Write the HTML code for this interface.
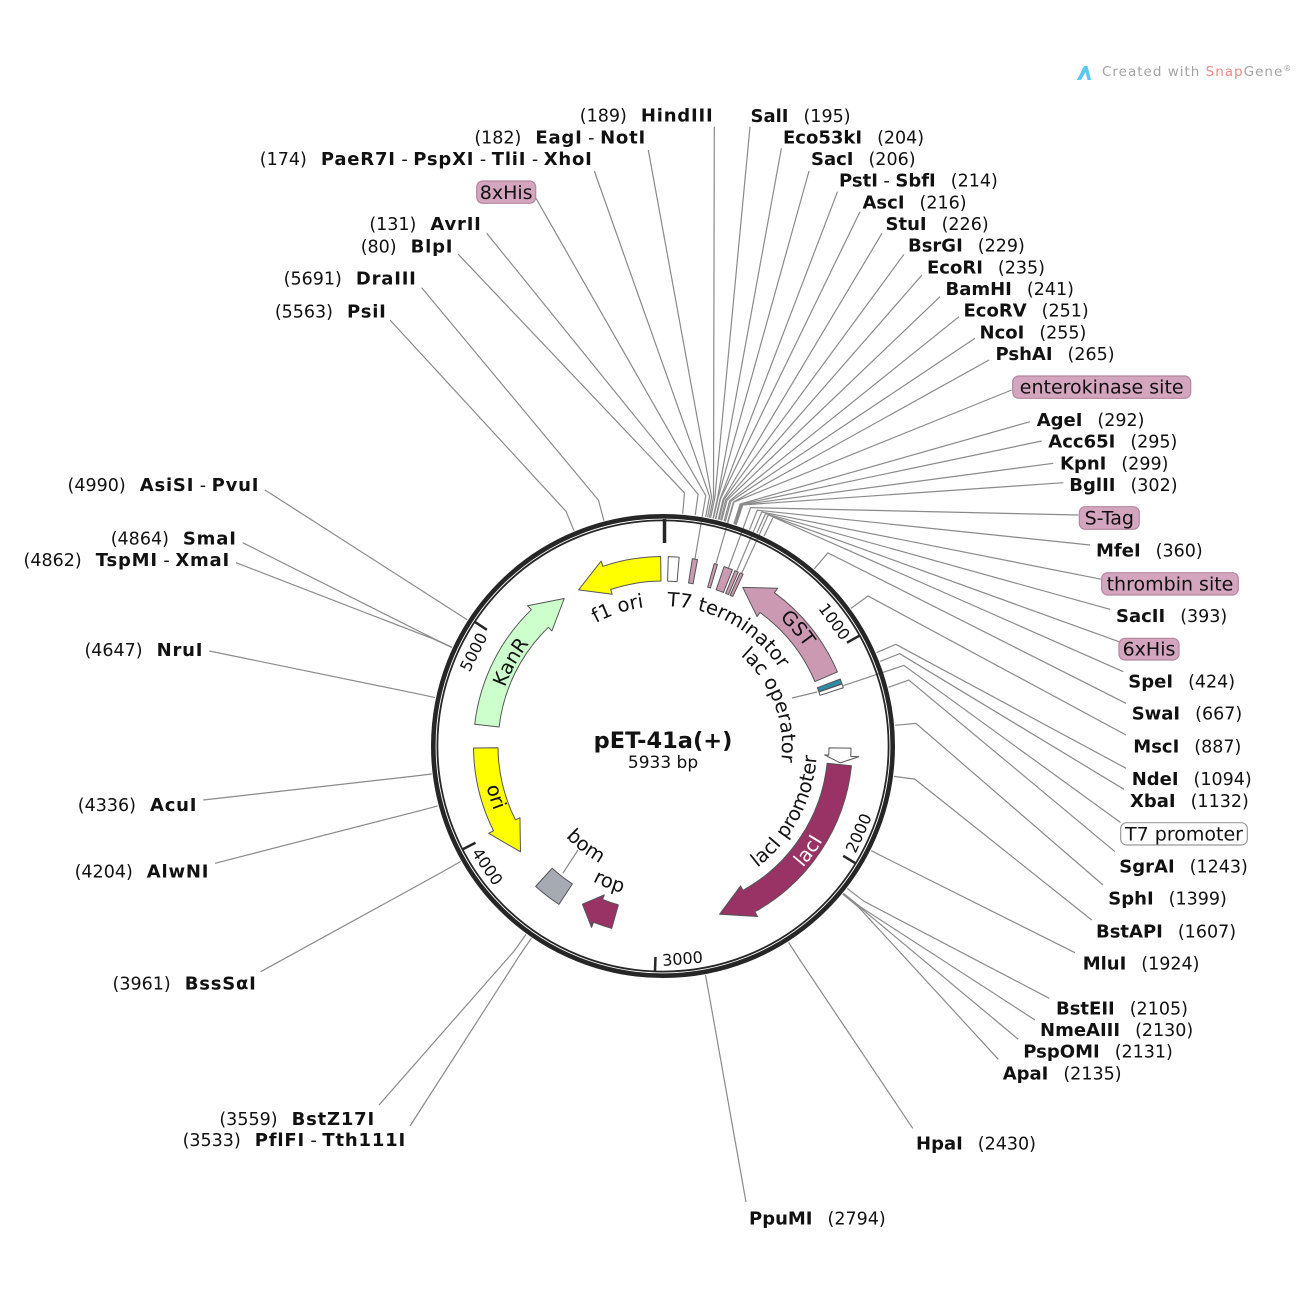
<!DOCTYPE html>
<html><head><meta charset="utf-8"><style>html,body{margin:0;padding:0;background:#fff;}svg{display:block;}</style></head>
<body>
<svg width="1300" height="1300" viewBox="0 0 1300 1300" xmlns="http://www.w3.org/2000/svg" font-family="'DejaVu Sans','Liberation Sans',sans-serif">
<rect width="1300" height="1300" fill="#fff"/>
<defs>
<path id="cw140" d="M0,140 A140,140 0 1,1 0,-140 A140,140 0 1,1 0,140"/>
<path id="cw119" d="M0,119 A119,119 0 1,1 0,-119 A119,119 0 1,1 0,119"/>
<path id="cw173" d="M0,173 A173,173 0 1,1 0,-173 A173,173 0 1,1 0,173"/>
<path id="cw168" d="M0,168.5 A168.5,168.5 0 1,1 0,-168.5 A168.5,168.5 0 1,1 0,168.5"/>
<path id="ccw154" d="M0,-154 A154,154 0 1,0 0,154 A154,154 0 1,0 0,-154"/>
<path id="ccw185" d="M0,-185.5 A185.5,185.5 0 1,0 0,185.5 A185.5,185.5 0 1,0 0,-185.5"/>
<path id="ccw181" d="M0,-181 A181,181 0 1,0 0,181 A181,181 0 1,0 0,-181"/>
<path id="ccw133" d="M0,-133 A133,133 0 1,0 0,133 A133,133 0 1,0 0,-133"/>
<path id="ccw152" d="M0,-152.5 A152.5,152.5 0 1,0 0,152.5 A152.5,152.5 0 1,0 0,-152.5"/>
</defs>

<!-- watermark -->
<path d="M1077,80 L1084,66 L1087.5,66 L1091,80 L1087.5,80 L1085.5,72 L1081,80 Z" fill="#5ac8ef"/>
<text x="1102" y="76" font-size="13.5" letter-spacing="1" fill="#a3a3a3">Created with <tspan fill="#ec8a85">Snap</tspan>Gene<tspan font-size="8" dy="-5">®</tspan></text>

<!-- leader lines -->
<g stroke="#8a8a8a" stroke-width="1.2" fill="none">
<polyline points="714.3,126.7 713.5,497.1 709.3,517.7"/>
<polyline points="648.3,150 711.6,496.7 707.6,517.3"/>
<polyline points="594.3,171 709.6,496.3 705.7,516.9"/>
<polyline points="486.7,233.3 698.1,494.4 695.2,515.2"/>
<polyline points="458.3,254.3 684.5,492.9 682.7,513.8"/>
<polyline points="421.7,287.7 598.5,500.3 603.9,520.6"/>
<polyline points="390,320 566,511.3 574,530.7"/>
<polyline points="536,198.3 705.8,495.6 695,558.7"/>
<polyline points="750,126.7 714.9,497.4 710.6,517.9"/>
<polyline points="781.4,148.3 717.5,497.9 713,518.4"/>
<polyline points="809,171 718,498 713.4,518.5"/>
<polyline points="837.5,191.7 720.2,498.5 715.4,519"/>
<polyline points="860,211.7 720.6,498.6 715.8,519.1"/>
<polyline points="882,233.3 723.1,499.2 718.2,519.6"/>
<polyline points="904,254.3 724,499.4 719,519.8"/>
<polyline points="922,275 725.7,499.9 720.6,520.2"/>
<polyline points="940,296.7 727,500.2 721.7,520.5"/>
<polyline points="959,316.7 729.6,500.9 724.1,521.2"/>
<polyline points="975,338.3 730.9,501.2 725.3,521.5"/>
<polyline points="989,360 733.4,502 727.6,522.1"/>
<polyline points="1011.7,390 733.9,502.1 716,563.5"/>
<polyline points="1030,421.7 740.2,504 733.8,524"/>
<polyline points="1041.7,441 741.1,504.3 734.6,524.3"/>
<polyline points="1053.3,463.3 741.9,504.6 735.4,524.5"/>
<polyline points="1063.3,482.7 742.8,504.9 736.2,524.8"/>
<polyline points="1078.3,515 750.7,507.6 728.6,567.7"/>
<polyline points="1090,545 757.3,510.2 749.5,529.7"/>
<polyline points="1101.7,579.3 761.7,512 736.8,570.9"/>
<polyline points="1110,609.3 765.5,513.6 757,532.8"/>
<polyline points="1119,641.7 768.3,514.9 741.8,573.1"/>
<polyline points="1123.3,671.7 773.2,517.1 764.1,536"/>
<polyline points="1126,703.3 827.9,552.9 814.3,568.8"/>
<polyline points="1126,735 868,596 851,608.4"/>
<polyline points="1126,768.3 895.8,644.3 876.5,652.7"/>
<polyline points="1124,789.3 899.7,653.7 880.1,661.4"/>
<polyline points="1120.5,822.5 903.9,665.4 843.2,685.7"/>
<polyline points="1115,851.7 908.8,680 888.5,687.3"/>
<polyline points="1103,885 916,723.4 895.1,725.3"/>
<polyline points="1091.7,920 914.8,779.1 894,776.4"/>
<polyline points="1075,952.7 889.9,860.1 871.2,850.7"/>
<polyline points="1049.3,998.3 864,901.3 847.3,888.5"/>
<polyline points="1035,1020 859.8,906.5 843.5,893.3"/>
<polyline points="1018.3,1039.3 859.5,906.9 843.3,893.6"/>
<polyline points="998.3,1059.3 859,907.6 842.8,894.2"/>
<polyline points="912.7,1128.3 799.9,960 788.5,942.3"/>
<polyline points="746,1202 709.3,995.8 705.5,975.1"/>
<polyline points="410,1126 519.5,955.6 531.4,938.2"/>
<polyline points="379,1105 513.7,951.5 526,934.5"/>
<polyline points="260.7,971.7 442.4,871.9 460.6,861.5"/>
<polyline points="215,863.3 417.5,811.3 437.8,805.9"/>
<polyline points="203.3,800 410.8,776.5 431.7,774"/>
<polyline points="209.3,651 414.6,693.2 435.1,697.6"/>
<polyline points="236,562.7 432.8,638.7 451.8,647.5"/>
<polyline points="242.7,542.7 433,638.3 452,647.2"/>
<polyline points="265,490 449.5,608.4 467.1,619.8"/>
<line x1="563" y1="873" x2="578" y2="850"/>
<line x1="817" y1="692" x2="792" y2="698"/>
</g>

<!-- ring -->
<g transform="translate(663,746)" stroke="#262626" fill="none">
<circle r="229.7" stroke-width="4.6"/>
<circle r="225.6" stroke-width="1.8"/>
<line x1="1.5" y1="-203" x2="1.5" y2="-227" stroke-width="3.5"/>
<line x1="0" y1="-211" x2="0" y2="-226" stroke-width="2.5" transform="rotate(60.68)"/>
<line x1="0" y1="-211" x2="0" y2="-226" stroke-width="2.5" transform="rotate(121.36)"/>
<line x1="0" y1="-211" x2="0" y2="-226" stroke-width="2.5" transform="rotate(182.04)"/>
<line x1="0" y1="-211" x2="0" y2="-226" stroke-width="2.5" transform="rotate(242.72)"/>
<line x1="0" y1="-211" x2="0" y2="-226" stroke-width="2.5" transform="rotate(303.4)"/>
</g>

<!-- tick labels -->
<g font-size="16" fill="#111" text-anchor="middle">
<text transform="translate(834.5,621.5) rotate(54.2)" dy="0.36em">1000</text>
<text transform="translate(858.5,833) rotate(-66)" dy="0.36em">2000</text>
<text transform="translate(682.5,958.5) rotate(-5)" dy="0.36em">3000</text>
<text transform="translate(487.5,866.5) rotate(55.7)" dy="0.36em">4000</text>
<text transform="translate(473.5,652) rotate(-63.3)" dy="0.36em">5000</text>
</g>

<!-- features -->
<g transform="translate(663,746)" stroke="#555" stroke-width="1" stroke-linejoin="round">
<path transform="rotate(-0.7) scale(-1,1)" fill="#ffff00" d="M0,-165 L0,-189.5 A189.5,189.5 0 0,1 57.93,-180.42 L59.61,-185.66 L82.5,-157.16 L48.91,-152.34 L50.44,-157.1 A165,165 0 0,0 0,-165 Z"/>
<path transform="rotate(1.6)" fill="#fff" d="M0,-165 L0,-189.5 A189.5,189.5 0 0,1 10.91,-189.19 L9.5,-164.73 A165,165 0 0,0 0,-165 Z"/>
<path transform="rotate(8.9)" fill="#cc99b3" d="M0,-165 L0,-189.5 A189.5,189.5 0 0,1 5.29,-189.43 L4.61,-164.94 A165,165 0 0,0 0,-165 Z"/>
<path transform="rotate(15.7)" fill="#cc99b3" d="M0,-165 L0,-189.5 A189.5,189.5 0 0,1 3.31,-189.47 L2.88,-164.97 A165,165 0 0,0 0,-165 Z"/>
<path transform="rotate(18.8)" fill="#cc99b3" d="M0,-165 L0,-189.5 A189.5,189.5 0 0,1 8.93,-189.29 L7.77,-164.82 A165,165 0 0,0 0,-165 Z"/>
<path transform="rotate(22.3)" fill="#cc99b3" d="M0,-165 L0,-189.5 A189.5,189.5 0 0,1 3.64,-189.47 L3.17,-164.97 A165,165 0 0,0 0,-165 Z"/>
<path transform="rotate(24)" fill="#cc99b3" d="M0,-165 L0,-189.5 A189.5,189.5 0 0,1 3.31,-189.47 L2.88,-164.97 A165,165 0 0,0 0,-165 Z"/>
<path transform="rotate(67) scale(-1,1)" fill="#cc99b3" d="M0,-165 L0,-189.5 A189.5,189.5 0 0,1 97.59,-162.44 L100.43,-167.15 L114.81,-135.38 L82.4,-137.15 L84.98,-141.44 A165,165 0 0,0 0,-165 Z"/>
<path transform="rotate(69.3)" fill="#2e8ca6" d="M0,-165 L0,-189.5 A189.5,189.5 0 0,1 4.96,-189.44 L4.32,-164.94 A165,165 0 0,0 0,-165 Z"/>
<path transform="rotate(70.9)" fill="#fff" d="M0,-165 L0,-189.5 A189.5,189.5 0 0,1 3.97,-189.46 L3.46,-164.96 A165,165 0 0,0 0,-165 Z"/>
<path transform="rotate(90.65)" fill="#fff" d="M0,-166 L0,-188 A188,188 0 0,1 8.2,-187.82 L8.55,-195.81 L14.9,-177.38 L7.07,-161.85 L7.24,-165.84 A166,166 0 0,0 0,-166 Z"/>
<path transform="rotate(96)" fill="#993366" d="M0,-165 L0,-189.5 A189.5,189.5 0 0,1 155.23,-108.7 L159.74,-111.85 L161.38,-73.89 L131.07,-91.78 L135.17,-94.64 A165,165 0 0,0 0,-165 Z"/>
<path transform="rotate(195.7)" fill="#993366" d="M0,-165 L0,-189.5 A189.5,189.5 0 0,1 19.15,-188.53 L19.71,-194 L34.78,-174.06 L16.17,-159.18 L16.67,-164.16 A165,165 0 0,0 0,-165 Z"/>
<path transform="rotate(213.3)" fill="#a6abb3" d="M0,-165 L0,-189.5 A189.5,189.5 0 0,1 29.32,-187.22 L25.53,-163.01 A165,165 0 0,0 0,-165 Z"/>
<path transform="rotate(269.4) scale(-1,1)" fill="#ffff00" d="M0,-165 L0,-189.5 A189.5,189.5 0 0,1 83.08,-170.32 L85.49,-175.27 L104.33,-143.6 L70.14,-143.81 L72.34,-148.3 A165,165 0 0,0 0,-165 Z"/>
<path transform="rotate(276.6)" fill="#ccffcc" d="M0,-165 L0,-189.5 A189.5,189.5 0 0,1 120.28,-146.43 L123.77,-150.68 L135.17,-115.04 L101.55,-123.63 L104.73,-127.5 A165,165 0 0,0 0,-165 Z"/>
</g>

<!-- inner feature labels -->
<g transform="translate(663,746)" font-size="19.5" fill="#111">
<text><textPath href="#cw140" startOffset="395.1" text-anchor="middle">f1 ori</textPath></text>
<text><textPath href="#cw140" startOffset="510.7" text-anchor="middle">T7 terminator</textPath></text>
<text><textPath href="#cw119" startOffset="517.2" text-anchor="middle">lac operator</textPath></text>
<text><textPath href="#cw173" startOffset="690.8" text-anchor="middle">GST</textPath></text>
<text><textPath href="#cw168" startOffset="349.4" text-anchor="middle">KanR</textPath></text>
<text><textPath href="#ccw154" startOffset="650.4" text-anchor="middle">lacI promoter</textPath></text>
<text fill="#fff"><textPath href="#ccw185" startOffset="757.9" text-anchor="middle">lacI</textPath></text>
<text><textPath href="#ccw181" startOffset="337.7" text-anchor="middle">ori</textPath></text>
<text><textPath href="#ccw133" startOffset="330.3" text-anchor="middle">bom</textPath></text>
<text><textPath href="#ccw152" startOffset="421.6" text-anchor="middle">rop</textPath></text>
</g>

<!-- center -->
<text x="663" y="748" font-size="22.5" font-weight="bold" text-anchor="middle" fill="#111">pET-41a(+)</text>
<text x="663" y="768" font-size="17" text-anchor="middle" fill="#111">5933 bp</text>

<!-- label boxes -->
<g stroke-width="1.2">
<rect x="476.7" y="181" width="59" height="22.3" rx="6" fill="#d4a5be" stroke="#b5869f"/>
<rect x="1012.7" y="376" width="178" height="22.3" rx="6" fill="#d4a5be" stroke="#b5869f"/>
<rect x="1079.3" y="506.7" width="60" height="22.6" rx="6" fill="#d4a5be" stroke="#b5869f"/>
<rect x="1101.7" y="572.7" width="136.6" height="22.3" rx="6" fill="#d4a5be" stroke="#b5869f"/>
<rect x="1119" y="638.3" width="60" height="21.7" rx="6" fill="#d4a5be" stroke="#b5869f"/>
<rect x="1120.7" y="822.7" width="126.6" height="22.3" rx="6" fill="#fff" stroke="#999"/>
</g>
<g font-size="19" fill="#111" text-anchor="middle">
<text x="506.2" y="199">8xHis</text>
<text x="1101.7" y="393.5">enterokinase site</text>
<text x="1109.3" y="524.5">S-Tag</text>
<text x="1170" y="590.3">thrombin site</text>
<text x="1149" y="655.5">6xHis</text>
<text x="1184" y="840.3">T7 promoter</text>
</g>

<!-- enzyme labels left -->
<g font-size="17.5" fill="#111" text-anchor="end">
<text x="713.5" y="121.7">(189)<tspan dx="14" font-weight="bold" font-size="18" letter-spacing="0.8">HindIII</tspan></text>
<text x="646" y="143.3">(182)<tspan dx="14" font-weight="bold" font-size="18" letter-spacing="0.8">EagI</tspan> - <tspan font-weight="bold" font-size="18" letter-spacing="0.8">NotI</tspan></text>
<text x="592.7" y="165">(174)<tspan dx="14" font-weight="bold" font-size="18" letter-spacing="0.8">PaeR7I</tspan> - <tspan font-weight="bold" font-size="18" letter-spacing="0.8">PspXI</tspan> - <tspan font-weight="bold" font-size="18" letter-spacing="0.8">TliI</tspan> - <tspan font-weight="bold" font-size="18" letter-spacing="0.8">XhoI</tspan></text>
<text x="481.7" y="230">(131)<tspan dx="14" font-weight="bold" font-size="18" letter-spacing="0.8">AvrII</tspan></text>
<text x="453.3" y="252.7">(80)<tspan dx="14" font-weight="bold" font-size="18" letter-spacing="0.8">BlpI</tspan></text>
<text x="416.7" y="284.3">(5691)<tspan dx="14" font-weight="bold" font-size="18" letter-spacing="0.8">DraIII</tspan></text>
<text x="386.7" y="317.7">(5563)<tspan dx="14" font-weight="bold" font-size="18" letter-spacing="0.8">PsiI</tspan></text>
<text x="259.3" y="491">(4990)<tspan dx="14" font-weight="bold" font-size="18" letter-spacing="0.8">AsiSI</tspan> - <tspan font-weight="bold" font-size="18" letter-spacing="0.8">PvuI</tspan></text>
<text x="236.7" y="544.3">(4864)<tspan dx="14" font-weight="bold" font-size="18" letter-spacing="0.8">SmaI</tspan></text>
<text x="230" y="566">(4862)<tspan dx="14" font-weight="bold" font-size="18" letter-spacing="0.8">TspMI</tspan> - <tspan font-weight="bold" font-size="18" letter-spacing="0.8">XmaI</tspan></text>
<text x="203.3" y="656">(4647)<tspan dx="14" font-weight="bold" font-size="18" letter-spacing="0.8">NruI</tspan></text>
<text x="197.3" y="811">(4336)<tspan dx="14" font-weight="bold" font-size="18" letter-spacing="0.8">AcuI</tspan></text>
<text x="209.3" y="877.7">(4204)<tspan dx="14" font-weight="bold" font-size="18" letter-spacing="0.8">AlwNI</tspan></text>
<text x="256.7" y="989.5">(3961)<tspan dx="14" font-weight="bold" font-size="18" letter-spacing="0.8">BssSαI</tspan></text>
<text x="375" y="1125">(3559)<tspan dx="14" font-weight="bold" font-size="18" letter-spacing="0.8">BstZ17I</tspan></text>
<text x="406" y="1146">(3533)<tspan dx="14" font-weight="bold" font-size="18" letter-spacing="0.8">PflFI</tspan> - <tspan font-weight="bold" font-size="18" letter-spacing="0.8">Tth111I</tspan></text>
</g>

<!-- enzyme labels right -->
<g font-size="17.5" fill="#111">
<text x="750.5" y="122"><tspan font-weight="bold" font-size="18">SalI</tspan><tspan dx="15">(195)</tspan></text>
<text x="783" y="143.3"><tspan font-weight="bold" font-size="18">Eco53kI</tspan><tspan dx="15">(204)</tspan></text>
<text x="811" y="165"><tspan font-weight="bold" font-size="18">SacI</tspan><tspan dx="15">(206)</tspan></text>
<text x="839" y="186.7"><tspan font-weight="bold" font-size="18">PstI</tspan> - <tspan font-weight="bold" font-size="18">SbfI</tspan><tspan dx="15">(214)</tspan></text>
<text x="862.5" y="208.3"><tspan font-weight="bold" font-size="18">AscI</tspan><tspan dx="15">(216)</tspan></text>
<text x="885.5" y="230"><tspan font-weight="bold" font-size="18">StuI</tspan><tspan dx="15">(226)</tspan></text>
<text x="908" y="251.7"><tspan font-weight="bold" font-size="18">BsrGI</tspan><tspan dx="15">(229)</tspan></text>
<text x="927" y="273.3"><tspan font-weight="bold" font-size="18">EcoRI</tspan><tspan dx="15">(235)</tspan></text>
<text x="945.5" y="295"><tspan font-weight="bold" font-size="18">BamHI</tspan><tspan dx="15">(241)</tspan></text>
<text x="963.5" y="316.7"><tspan font-weight="bold" font-size="18">EcoRV</tspan><tspan dx="15">(251)</tspan></text>
<text x="979.5" y="338.3"><tspan font-weight="bold" font-size="18">NcoI</tspan><tspan dx="15">(255)</tspan></text>
<text x="995.5" y="360"><tspan font-weight="bold" font-size="18">PshAI</tspan><tspan dx="15">(265)</tspan></text>
<text x="1036.7" y="426"><tspan font-weight="bold" font-size="18">AgeI</tspan><tspan dx="15">(292)</tspan></text>
<text x="1048.3" y="447.7"><tspan font-weight="bold" font-size="18">Acc65I</tspan><tspan dx="15">(295)</tspan></text>
<text x="1060" y="469.3"><tspan font-weight="bold" font-size="18">KpnI</tspan><tspan dx="15">(299)</tspan></text>
<text x="1069.3" y="491"><tspan font-weight="bold" font-size="18">BglII</tspan><tspan dx="15">(302)</tspan></text>
<text x="1096" y="556.5"><tspan font-weight="bold" font-size="18">MfeI</tspan><tspan dx="15">(360)</tspan></text>
<text x="1116" y="622"><tspan font-weight="bold" font-size="18">SacII</tspan><tspan dx="15">(393)</tspan></text>
<text x="1128.3" y="687.5"><tspan font-weight="bold" font-size="18">SpeI</tspan><tspan dx="15">(424)</tspan></text>
<text x="1131.7" y="719.3"><tspan font-weight="bold" font-size="18">SwaI</tspan><tspan dx="15">(667)</tspan></text>
<text x="1133.3" y="752.5"><tspan font-weight="bold" font-size="18">MscI</tspan><tspan dx="15">(887)</tspan></text>
<text x="1131.7" y="785"><tspan font-weight="bold" font-size="18">NdeI</tspan><tspan dx="15">(1094)</tspan></text>
<text x="1130" y="807"><tspan font-weight="bold" font-size="18">XbaI</tspan><tspan dx="15">(1132)</tspan></text>
<text x="1119.3" y="872.5"><tspan font-weight="bold" font-size="18">SgrAI</tspan><tspan dx="15">(1243)</tspan></text>
<text x="1108.3" y="904.3"><tspan font-weight="bold" font-size="18">SphI</tspan><tspan dx="15">(1399)</tspan></text>
<text x="1096" y="937.5"><tspan font-weight="bold" font-size="18">BstAPI</tspan><tspan dx="15">(1607)</tspan></text>
<text x="1082.7" y="969.3"><tspan font-weight="bold" font-size="18">MluI</tspan><tspan dx="15">(1924)</tspan></text>
<text x="1056" y="1014.5"><tspan font-weight="bold" font-size="18">BstEII</tspan><tspan dx="15">(2105)</tspan></text>
<text x="1040" y="1036"><tspan font-weight="bold" font-size="18">NmeAIII</tspan><tspan dx="15">(2130)</tspan></text>
<text x="1023.3" y="1057.7"><tspan font-weight="bold" font-size="18">PspOMI</tspan><tspan dx="15">(2131)</tspan></text>
<text x="1002.7" y="1079.3"><tspan font-weight="bold" font-size="18">ApaI</tspan><tspan dx="15">(2135)</tspan></text>
<text x="916" y="1149.3"><tspan font-weight="bold" font-size="18">HpaI</tspan><tspan dx="15">(2430)</tspan></text>
<text x="749" y="1224.3"><tspan font-weight="bold" font-size="18">PpuMI</tspan><tspan dx="15">(2794)</tspan></text>
</g>
</svg>
</body></html>
